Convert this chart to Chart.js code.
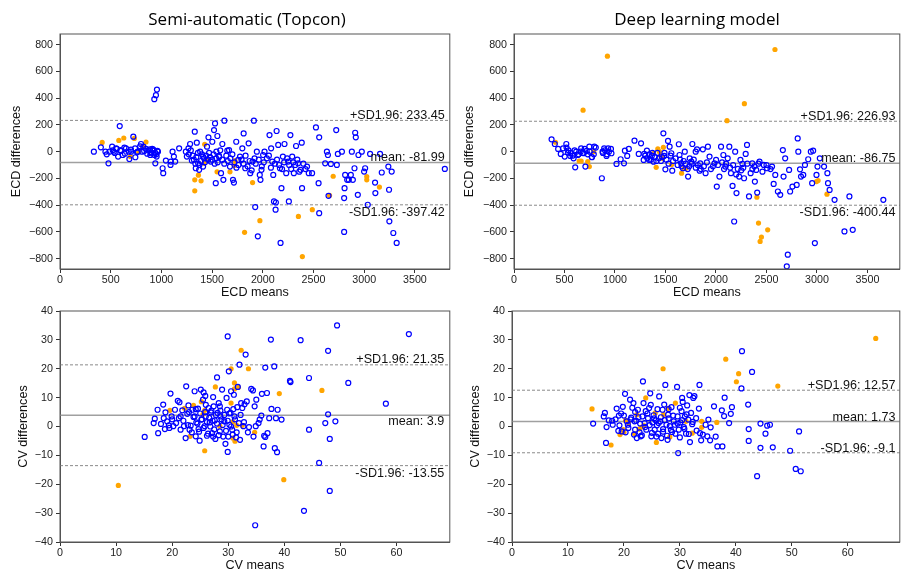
<!DOCTYPE html>
<html lang="en">
<head>
<meta charset="UTF-8">
<title>Bland-Altman: ECD and CV</title>
<script src="https://cdn.jsdelivr.net/npm/chart.js"></script>
<style>
  body { margin: 0; background: #fff; }
  #page { position: relative; width: 905px; height: 576px; overflow: hidden; }
  .panel { position: absolute; }
</style>
</head>
<body>
<div id="page">
  <div class="panel" style="left:0;top:0"><canvas id="ecdSemi" width="455" height="306"></canvas></div>
  <div class="panel" style="left:455px;top:0"><canvas id="ecdDeep" width="450" height="306"></canvas></div>
  <div class="panel" style="left:0;top:290px"><canvas id="cvSemi" width="455" height="286"></canvas></div>
  <div class="panel" style="left:455px;top:290px"><canvas id="cvDeep" width="450" height="286"></canvas></div>
</div>
<script>
// tick labels
const ecdTicksX = [0, 500, 1000, 1500, 2000, 2500, 3000, 3500];
const ecdTicksY = [-800, -600, -400, -200, 0, 200, 400, 600, 800];
const cvTicksX = [0, 10, 20, 30, 40, 50, 60];
const cvTicksY = [-40, -30, -20, -10, 0, 10, 20, 30, 40];

// +1.96 SD, mean, -1.96 SD
const ecdSemiStats = [233.45, -81.99, -397.42];
const ecdDeepStats = [226.93, -86.75, -400.44];
const cvSemiStats = [21.35, 3.9, -13.55];
const cvDeepStats = [12.57, 1.73, -9.1];

// [mean, difference] pairs
const ecdSemiBlue = [
  [334,0],[403,32],[448,0],[461,-20],[478,-87],[488,0],[514,37],[530,0],[553,25],[573,-37],[589,191],[596,12],
  [619,-25],[635,30],[651,25],[678,0],[684,-55],[701,0],[723,112],[740,25],[743,-42],[766,0],[799,57],[809,0],
  [822,37],[848,20],[887,17],[897,-12],[914,7],[930,-25],[930,392],[946,422],[956,464],[940,-87],[966,0],[953,-37],
  [1012,-124],[1018,-161],[1044,-67],[1090,-99],[1093,-74],[1110,0],[1123,-37],[1136,-74],[1175,25],[1241,0],
  [1251,-37],[1267,25],[1283,57],[1300,-67],[1329,149],[1339,-124],[1349,67],[1362,-87],[1372,-136],[1382,0],
  [1411,-112],[1411,-37],[1450,37],[1464,107],[1486,-74],[1502,74],[1519,161],[1529,211],[1536,-236],[1542,0],
  [1552,117],[1568,-32],[1588,-161],[1601,57],[1611,-211],[1621,231],[1650,7],[1667,12],[1676,-112],[1706,-211],
  [1715,-231],[1738,74],[1758,-62],[1775,-37],[1798,25],[1811,136],[1827,-124],[1860,62],[1876,-161],[1899,-74],
  [1912,231],[1919,-50],[1925,-414],[1941,0],[1951,-633],[1970,-174],[1977,-211],[1987,-136],[2003,-25],[2017,0],
  [2066,124],[2082,25],[2093,-74],[2103,-174],[2110,-372],[2126,-434],[2129,-380],[2136,154],[2152,50],[2169,-124],
  [2175,-682],[2184,-273],[2198,-37],[2214,57],[2231,-161],[2250,-74],[2257,-372],[2272,124],[2290,-37],[2306,-161],
  [2328,42],[2348,-87],[2372,-136],[2384,67],[2387,-273],[2436,-112],[2453,-161],[2486,-161],[2524,181],[2550,-236],
  [2556,107],[2556,-460],[2615,-87],[2632,0],[2642,-25],[2648,-330],[2671,-92],[2724,161],[2730,-99],[2740,-17],
  [2780,0],[2802,-347],[2802,-600],[2806,-273],[2812,-174],[2832,-211],[2848,-211],[2868,-174],[2878,0],[2888,-211],
  [2904,-124],[2911,141],[2917,107],[2937,-323],[2943,-25],[2976,0],[2999,-149],[3009,-124],[3035,-397],[3058,-17],
  [3107,-231],[3110,-310],[3156,-17],[3173,-156],[3238,-112],[3245,-285],[3248,-521],[3271,-149],[3287,-608],
  [3320,-682],[3795,-129],
  [520,10],[540,-10],[560,20],[600,5],[640,-15],[700,15],[760,-5],[790,40],[830,5],[860,-15],[870,10],[900,-5],
  [920,15],[940,-10],[950,-20],[960,5],[910,20],[890,-25],
  [1270,-20],[1290,10],[1310,-30],[1320,-60],[1335,-90],[1345,-40],[1360,-10],[1375,-100],[1390,-70],[1400,-20],
  [1420,-50],[1430,-80],[1440,-30],[1460,-60],[1470,-10],[1480,-40],[1500,-60],[1515,-20],[1525,-90],[1540,-50],
  [1555,-80],[1570,-40],[1580,10],[1600,-60],[1620,-90],[1640,-30],[1655,-70],[1680,-50],[1700,-20],[1720,-80],
  [1740,-120],[1760,-100],[1790,-60],[1810,-90],[1830,-30],[1850,-110],[1870,-70],[1890,-140],[1930,-90],[1960,-60],
  [1990,-110],[2010,-80],[2040,-50],[2060,-30],[2080,-120],[2120,-90],[2140,-60],[2160,-100],[2190,-130],[2210,-80],
  [2240,-50],[2260,-100],[2280,-130],[2300,-80],[2320,-100],[2340,-60],[2360,-150],[2400,-90],[2420,-130]
];
const ecdSemiOrange = [
  [416,69],[580,84],[629,102],[733,99],[848,72],[694,-37],[776,0],[815,37],[1329,-211],[1329,-293],[1365,-176],
  [1391,-218],[1427,55],[1421,-87],[1444,-57],[1454,-62],[1549,-151],[1676,-151],[1719,-104],[1725,-67],[1820,-603],
  [1899,-231],[1971,-516],[2351,-484],[2390,-784],[2488,-434],[2658,-327],[2694,-184],[3025,-186],[3025,-211],[3150,-265]
];

const ecdDeepBlue = [
  [372,92],[404,57],[437,20],[463,-17],[486,25],[502,-37],[518,57],[535,-7],[557,-32],[590,-50],[606,-117],[616,0],
  [632,-25],[665,25],[691,-12],[707,-112],[720,5],[746,37],[772,-42],[795,37],[870,-199],[877,0],[893,25],[916,-32],
  [932,25],[965,-12],[1015,-92],[1056,-57],[1089,-87],[1098,7],[1121,-32],[1137,20],[1193,82],[1235,-17],[1258,62],
  [1284,-62],[1290,-17],[1316,7],[1339,-62],[1365,-30],[1382,-75],[1479,137],[1486,-32],[1499,-132],[1525,80],
  [1541,37],[1558,-12],[1567,-142],[1632,55],[1639,-25],[1655,-87],[1672,-124],[1691,0],[1724,-186],[1740,-50],
  [1756,-75],[1766,57],[1799,0],[1812,17],[1838,-142],[1844,-87],[1870,17],[1897,-161],[1920,37],[1936,-37],
  [1985,-87],[2001,-62],[2008,-261],[2034,-186],[2050,37],[2073,-25],[2093,-112],[2116,-50],[2132,37],[2148,-161],
  [2164,-256],[2180,-522],[2190,0],[2203,-310],[2216,-129],[2229,-186],[2242,-62],[2262,-92],[2278,-199],[2294,-17],
  [2307,50],[2327,-335],[2343,-161],[2359,-87],[2385,-224],[2398,-137],[2408,-306],[2431,-75],[2473,-99],[2506,-124],
  [2555,-112],[2571,-241],[2587,-174],[2613,-298],[2636,-323],[2662,12],[2669,-186],[2685,-50],[2701,-857],[2711,-770],
  [2724,-137],[2734,-298],[2757,-261],[2799,-249],[2809,99],[2815,0],[2832,-132],[2842,-186],[2864,-174],[2881,-99],
  [2913,-57],[2939,0],[2952,-236],[2962,7],[2979,-683],[2995,-174],[3005,-112],[3028,-50],[3070,-112],[3103,-161],
  [3109,-236],[3125,-286],[3174,-360],[3272,-596],[3321,-335],[3354,-584],[3657,-360],
  [520,30],[540,10],[560,-10],[580,-30],[600,10],[640,-20],[660,0],[680,-10],[700,20],[730,-20],[750,0],[770,-40],
  [790,-20],[810,30],[880,-10],[900,10],[920,-20],[940,0],[960,20],
  [1300,-30],[1320,-50],[1340,-20],[1355,-60],[1370,-10],[1395,-40],[1410,-70],[1420,-10],[1435,-50],[1455,-70],
  [1465,-40],[1490,-10],[1510,-60],[1530,-90],[1550,-30],[1575,-70],[1600,-50],[1620,-100],[1645,-60],[1660,-110],
  [1680,-70],[1700,-90],[1720,-130],[1735,-110],[1760,-90],[1780,-60],[1800,-120],[1820,-100],[1850,-130],[1880,-110],
  [1910,-80],[1950,-130],[1970,-110],[2020,-100],[2060,-80],[2080,-130],[2100,-90],[2140,-120],[2170,-100],[2200,-170],
  [2250,-140],[2270,-120],[2310,-90],[2360,-130],[2380,-110],[2420,-90],[2460,-150],[2500,-100],[2540,-130]
];
const ecdDeepOrange = [
  [411,70],[684,310],[925,713],[645,-70],[665,-70],[730,-75],[746,-112],[789,0],[1382,-12],[1408,-117],[1424,20],
  [1440,0],[1453,-30],[1470,-50],[1479,32],[1561,-97],[1659,-161],[1685,-124],[1701,-124],[2109,231],[2281,358],
  [2405,-340],[2421,-534],[2437,-671],[2450,-638],[2512,-584],[2584,763],[2995,-224],[3011,-216],[3099,-318]
];

const cvSemiBlue = [
  [15.1,-3.6],[16.7,1.2],[16.9,2.7],[17.4,5.8],[17.5,-2.3],[18.0,0.9],[18.4,7.6],[18.5,2.9],[18.7,-0.9],[18.8,4.9],
  [19.1,1.8],[19.4,0.4],[19.7,11.4],[19.9,3.5],[20.2,0.1],[20.5,5.8],[20.7,1.2],[21.0,8.9],[21.2,2.9],[21.3,8.4],
  [21.5,-1.1],[21.8,5.6],[22.1,0.1],[22.4,-4.0],[22.5,13.9],[22.7,4.4],[22.9,7.3],[23.1,-1.1],[23.3,0.3],[23.6,5.8],
  [23.8,3.3],[24.0,12.2],[24.2,-3.4],[24.3,1.4],[24.6,6.2],[24.7,-0.9],[24.9,-4.9],[25.1,12.8],[25.2,2.4],[25.5,9.3],
  [25.6,11.8],[25.8,0.1],[25.9,10.6],[26.0,3.5],[26.2,-3.2],[26.5,6.4],[26.7,1.4],[26.9,4.9],[27.1,-2.3],[27.3,10.2],
  [27.4,7.0],[27.6,2.1],[27.7,-4.3],[28.0,17.0],[28.1,4.7],[28.3,8.1],[28.5,-1.7],[28.6,3.5],[28.9,12.8],[29.1,-3.5],
  [29.3,1.8],[29.5,-6.0],[29.7,9.9],[29.8,5.8],[29.9,31.2],[29.9,-8.8],[30.1,19.1],[30.2,0.6],[30.4,4.7],[30.5,12.2],
  [30.7,-1.1],[30.8,-2.8],[31.0,11.0],[31.1,3.5],[31.4,-3.8],[31.6,6.7],[31.7,13.7],[31.9,1.2],[32.0,21.4],[32.1,-4.6],
  [32.3,8.1],[32.5,6.4],[32.7,0.1],[32.9,7.7],[33.1,24.9],[33.3,8.7],[33.5,-2.0],[33.7,-0.2],[34.1,13.0],[34.4,12.5],
  [34.5,-3.5],[34.7,7.0],[34.9,0.1],[35.0,9.3],[35.4,1.2],[35.6,2.4],[35.9,3.8],[36.0,11.3],[36.3,-6.9],[36.4,-3.2],
  [36.6,-3.6],[36.6,20.4],[36.9,11.6],[37.0,-2.3],[37.3,2.9],[37.6,30.1],[37.7,6.1],[38.2,20.8],[38.3,-7.5],[38.5,2.9],
  [38.7,-8.9],[38.8,5.8],[39.5,2.4],[41.0,15.8],[41.1,15.4],[42.9,29.9],[34.8,-34.2],[43.5,-29.2],[44.4,16.8],
  [44.4,-1.1],[46.2,-12.6],[47.3,1.2],[47.8,4.2],[47.8,26.2],[48.1,-4.3],[48.1,-22.3],[49.1,1.8],[49.4,35.0],
  [51.4,15.1],[58.1,7.9],[62.2,32.0],
  [22.0,2.0],[22.8,0.5],[23.5,-2.0],[24.0,3.5],[24.5,1.0],[24.8,-1.8],[25.0,4.5],[25.3,2.5],[25.6,-0.5],[25.9,5.0],
  [26.2,1.5],[26.4,-2.5],[26.6,3.0],[26.8,0.0],[27.0,5.5],[27.2,2.0],[27.5,-1.0],[27.8,4.0],[28.0,1.0],[28.3,-3.0],
  [28.6,5.5],[28.8,2.5],[29.0,0.5],[29.3,4.0],[29.6,-1.5],[29.9,2.0],[30.2,4.5],[30.5,0.0],[30.9,6.0],[31.2,2.5],
  [31.5,-2.0],[32.2,4.0],[32.8,1.5],[23.0,5.0],[21.5,3.5],[20.0,2.5],[19.5,-0.5],[24.2,6.0],[26.0,7.5],[28.5,7.0],
  [30.0,-3.5],[27.3,-3.5]
];
const cvSemiOrange = [
  [10.4,-20.4],[19.6,5.6],[22.2,6.3],[23.2,-3.4],[23.8,7.3],[25.2,8.6],[25.5,4.2],[25.8,5.6],[25.8,-8.4],[27.7,13.7],
  [28.5,0.1],[30.5,20.0],[30.5,8.1],[30.8,1.6],[30.8,-4.0],[31.1,15.1],[31.1,13.0],[31.2,-5.1],[31.5,0.4],[31.8,13.6],
  [32.3,26.4],[32.5,0.4],[33.6,20.0],[34.7,-2.0],[39.1,11.4],[39.9,-18.4],[46.7,12.5]
];

const cvDeepBlue = [
  [14.5,1.0],[16.4,3.5],[16.6,4.7],[16.8,-5.7],[16.9,-0.2],[17.3,2.1],[17.9,2.0],[18.0,0.6],[18.7,6.2],[19.1,3.8],
  [19.2,0.4],[19.6,-1.7],[19.8,6.8],[20.0,3.8],[20.2,11.3],[20.5,1.8],[20.7,0.6],[21.1,9.3],[21.3,3.1],[21.5,6.5],
  [21.7,8.1],[21.9,1.8],[22.0,-1.1],[22.3,-4.0],[22.5,5.8],[22.6,3.2],[22.9,1.0],[23.0,-3.4],[23.2,-3.1],[23.4,15.6],
  [23.5,8.1],[23.7,1.2],[23.9,5.3],[24.0,-1.1],[24.3,2.9],[24.5,6.4],[24.7,11.5],[24.9,-3.4],[25.1,1.4],[25.3,3.9],
  [25.5,-1.1],[25.7,2.1],[25.9,0.4],[26.1,-2.5],[26.3,10.4],[26.5,1.8],[26.7,-4.0],[26.9,5.8],[27.0,-0.9],[27.2,7.6],
  [27.4,14.4],[27.6,0.6],[27.8,-4.6],[27.9,4.1],[28.2,0.1],[28.5,6.7],[28.6,-1.9],[28.9,1.8],[29.1,0.6],[29.5,13.7],
  [29.6,3.5],[29.7,-9.2],[29.8,-1.1],[30.1,1.4],[30.3,5.3],[30.4,9.9],[30.5,8.5],[30.7,-0.2],[30.9,3.5],[31.1,-2.5],
  [31.3,7.3],[31.5,2.4],[31.7,10.9],[31.8,-5.4],[32.0,4.7],[32.2,0.8],[32.4,9.9],[32.6,10.5],[32.9,2.9],[33.4,6.2],
  [33.5,14.4],[33.6,-2.3],[33.8,-4.8],[34.1,-2.8],[34.6,0.6],[34.9,-3.4],[35.1,2.4],[35.4,-4.8],[35.5,-0.3],[36.1,7.0],
  [36.4,-3.5],[36.7,-6.9],[37.5,5.6],[37.6,-6.9],[37.9,3.6],[38.0,10.0],[38.8,1.2],[39.1,4.4],[39.3,6.7],[41.0,13.2],
  [41.1,26.1],[42.2,7.6],[42.3,-0.9],[42.3,-5.0],[42.9,18.9],[43.8,-17.2],[44.4,1.0],[44.4,-7.4],[45.3,-2.5],
  [45.6,0.3],[46.1,0.6],[46.6,-7.2],[49.7,-8.4],[50.7,-14.7],[51.3,-1.7],[51.6,-15.5],
  [19.5,4.5],[20.8,-0.5],[21.2,2.5],[21.8,-2.8],[22.2,2.0],[22.8,-2.0],[23.3,3.5],[23.8,-0.2],[24.2,4.5],[24.6,0.5],
  [25.0,-2.2],[25.4,2.8],[25.8,-3.5],[26.2,1.2],[26.6,3.2],[27.0,-1.8],[27.3,2.2],[27.7,-3.2],[28.0,2.8],[28.4,-1.2],
  [28.8,3.8],[29.2,-2.5],[29.6,1.0],[30.0,-3.8],[30.4,2.2],[30.8,-0.8],[31.2,4.2],[31.6,-2.6],[32.3,1.6],[33.0,-1.4],
  [24.8,7.5],[26.0,6.0],[28.0,6.0],[30.0,6.5],[22.0,5.0],[18.5,2.5],[19.0,-1.5],[20.3,-2.0]
];
const cvDeepOrange = [
  [14.3,6.1],[17.7,-6.4],[19.3,-2.8],[19.9,-1.1],[20.0,-2.0],[20.3,2.1],[20.8,1.4],[21.9,-2.5],[22.3,4.1],[22.7,-0.9],
  [23.2,-0.2],[23.6,0.3],[23.9,9.9],[25.6,4.7],[25.8,-5.5],[27.0,20.0],[27.1,4.1],[27.9,6.3],[28.2,-3.6],[29.2,8.1],
  [31.1,1.8],[32.2,-2.3],[33.9,1.8],[33.9,-0.3],[36.6,1.4],[38.2,23.3],[40.1,15.5],[40.5,18.3],[47.5,14.0],[65.0,30.5]
];

const FONT = "'Liberation Sans', Arial, sans-serif";

// frame, reference-line labels and panel title
const panelDecor = {
  id: 'panelDecor',
  afterDatasetsDraw(chart, args, o) {
    const { ctx, chartArea: a } = chart;
    const y = chart.scales.y;
    ctx.save();
    ctx.strokeStyle = '#555';
    ctx.lineWidth = 1;
    ctx.strokeRect(a.left, a.top, a.right - a.left, a.bottom - a.top);
    ctx.fillStyle = '#111';
    ctx.font = '12.6px ' + FONT;
    ctx.textAlign = 'right';
    ctx.textBaseline = 'alphabetic';
    const txt = ['+SD1.96: ' + o.stats[0], 'mean: ' + o.stats[1], '-SD1.96: ' + o.stats[2]];
    txt.forEach((t, i) => {
      ctx.fillText(t, a.right - o.inset, y.getPixelForValue(o.stats[i]) + o.shift[i]);
    });
    if (o.title) {
      ctx.font = "17px 'Open Sans', sans-serif";
      ctx.textAlign = 'center';
      ctx.fillStyle = '#000';
      ctx.fillText(o.title, o.titleX, 25);
    }
    ctx.restore();
  }
};

function refLine(v, xMax, dashed) {
  return {
    type: 'line', showLine: true, pointRadius: 0, order: 3,
    data: [{ x: 0, y: v }, { x: xMax, y: v }],
    borderColor: dashed ? '#8a8a8a' : '#a0a0a0',
    borderWidth: dashed ? 1 : 1.5,
    borderDash: dashed ? [3, 2] : []
  };
}

function axisTicks(list) {
  return s => { s.ticks = list.map(v => ({ value: v })); };
}

function makePanel(id, p) {
  const minus = v => String(v).replace('-', '\u2212');
  new Chart(document.getElementById(id), {
    type: 'scatter',
    data: {
      datasets: [
        { data: p.blue.map(d => ({ x: d[0], y: d[1] })), order: 1, pointRadius: 2.5,
          pointBorderWidth: 1.2, borderColor: '#0000ff', backgroundColor: 'rgba(0,0,0,0)' },
        { data: p.orange.map(d => ({ x: d[0], y: d[1] })), order: 2, pointRadius: 2.6,
          pointBorderWidth: 0, borderColor: '#ffa500', backgroundColor: '#ffa500' },
        refLine(p.stats[0], p.xMax, true),
        refLine(p.stats[1], p.xMax, false),
        refLine(p.stats[2], p.xMax, true)
      ]
    },
    options: {
      responsive: false,
      animation: false,
      events: [],
      layout: { padding: p.pad },
      plugins: {
        legend: { display: false },
        tooltip: { enabled: false },
        panelDecor: { stats: p.stats, inset: p.inset, shift: p.shift, title: p.title, titleX: p.titleX }
      },
      scales: {
        x: {
          type: 'linear', min: 0, max: p.xMax,
          afterBuildTicks: axisTicks(p.xTicks),
          afterFit: s => { s.height = p.xH; },
          grid: { drawOnChartArea: false, drawTicks: true, tickLength: 4, tickColor: '#333' },
          border: { color: '#555' },
          ticks: { color: '#222', padding: 1, maxRotation: 0, font: { family: FONT, size: 10.7 }, callback: minus },
          title: { display: true, text: p.xLabel, color: '#111', padding: { top: 0, bottom: p.xTitlePad },
                   font: { family: FONT, size: 12.6 } }
        },
        y: {
          type: 'linear', min: p.yMin, max: p.yMax,
          afterBuildTicks: axisTicks(p.yTicks),
          afterFit: s => { s.width = p.yW; },
          grid: { drawOnChartArea: false, drawTicks: true, tickLength: 4, tickColor: '#333' },
          border: { color: '#555' },
          ticks: { color: '#222', padding: 3, font: { family: FONT, size: 10.7 }, callback: minus },
          title: { display: true, text: p.yLabel, color: '#111', padding: { top: p.yTitlePad, bottom: 0 },
                   font: { family: FONT, size: 12.6 } }
        }
      }
    },
    plugins: [panelDecor]
  });
}

makePanel('ecdSemi', {
  blue: ecdSemiBlue, orange: ecdSemiOrange, stats: ecdSemiStats,
  xTicks: ecdTicksX, yTicks: ecdTicksY, xMax: 3844, yMin: -877, yMax: 879,
  xLabel: 'ECD means', yLabel: 'ECD differences', title: 'Semi-automatic (Topcon)', titleX: 247,
  pad: { top: 34, right: 3, bottom: 0, left: 0 }, yW: 60, xH: 37, xTitlePad: 6, yTitlePad: 9,
  inset: 5, shift: [-1, -1.5, 11.3]
});
makePanel('ecdDeep', {
  blue: ecdDeepBlue, orange: ecdDeepOrange, stats: ecdDeepStats,
  xTicks: ecdTicksX, yTicks: ecdTicksY, xMax: 3820, yMin: -877, yMax: 879,
  xLabel: 'ECD means', yLabel: 'ECD differences', title: 'Deep learning model', titleX: 242,
  pad: { top: 34, right: 1, bottom: 0, left: 0 }, yW: 59, xH: 37, xTitlePad: 6, yTitlePad: 7,
  inset: 4.3, shift: [-1.7, -1, 11]
});
makePanel('cvSemi', {
  blue: cvSemiBlue, orange: cvSemiOrange, stats: cvSemiStats,
  xTicks: cvTicksX, yTicks: cvTicksY, xMax: 69.5, yMin: -40, yMax: 40,
  xLabel: 'CV means', yLabel: 'CV differences', title: null, titleX: 0,
  pad: { top: 21, right: 3, bottom: 0, left: 0 }, yW: 60, xH: 34, xTitlePad: 3, yTitlePad: 15.7,
  inset: 5.6, shift: [-2, 10, 11.6]
});
makePanel('cvDeep', {
  blue: cvDeepBlue, orange: cvDeepOrange, stats: cvDeepStats,
  xTicks: cvTicksX, yTicks: cvTicksY, xMax: 69.3, yMin: -40, yMax: 40,
  xLabel: 'CV means', yLabel: 'CV differences', title: null, titleX: 0,
  pad: { top: 21, right: 1, bottom: 0, left: 0 }, yW: 57, xH: 34, xTitlePad: 3, yTitlePad: 13.4,
  inset: 4.3, shift: [-1, -1, -1]
});
</script>
</body>
</html>
